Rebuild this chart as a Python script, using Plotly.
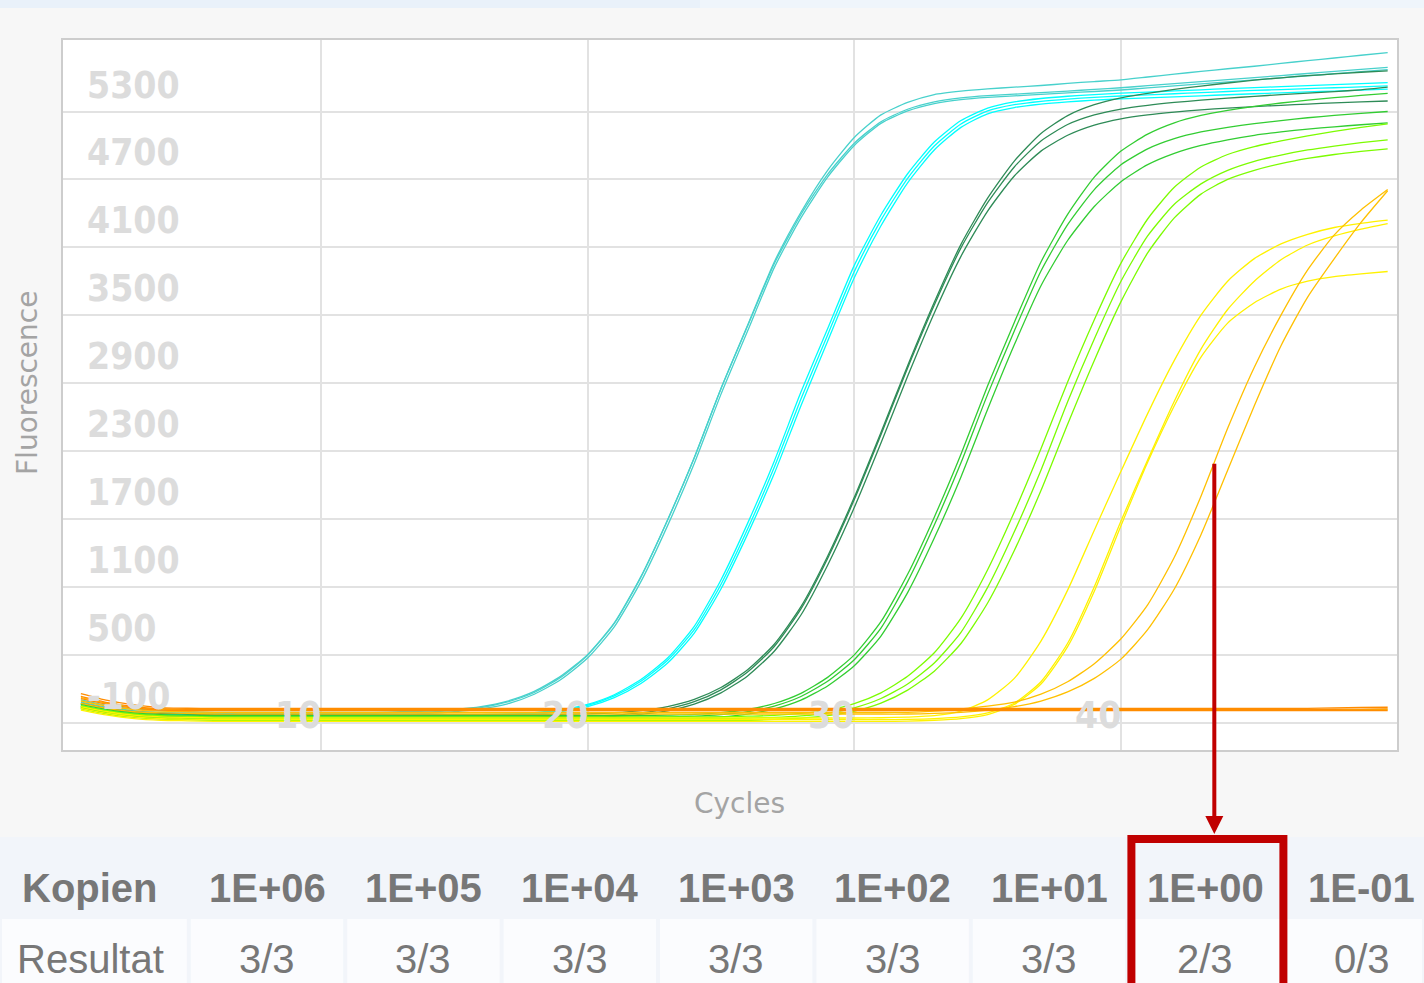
import numpy as np
import plotly.graph_objects as go

# ---------------- data ----------------
cycles = [1, 2, 3, 4, 5, 6, 7, 8, 9, 10, 11, 12, 13, 14, 15, 16, 17, 18, 19, 20,
          21, 22, 23, 24, 25, 26, 27, 28, 29, 30, 31, 32, 33, 34, 35, 36, 37, 38, 39, 40,
          41, 42, 43, 44, 45, 46, 47, 48, 49, 50]

teal_a = [100, 50, 20, 5, -5, -10, -10, -10, -10, -10, -10, -10, -5, 0,
          15, 40, 90, 175, 310, 500, 780, 1190, 1690, 2240,
          2850, 3410, 3970, 4410, 4780, 5070, 5270, 5380, 5450, 5480,
          5500, 5515, 5530, 5548, 5565, 5580, 5605, 5630, 5655, 5678,
          5700, 5725, 5750, 5773, 5797, 5820]
teal_b = [80, 35, 5, -10, -15, -20, -20, -20, -20, -20, -20, -20, -15, -8,
          8, 32, 82, 165, 300, 495, 775, 1185, 1690, 2240,
          2850, 3405, 3955, 4390, 4745, 5020, 5210, 5320, 5385, 5420,
          5440, 5453, 5467, 5481, 5495, 5510, 5528, 5546, 5564, 5582,
          5600, 5618, 5636, 5654, 5672, 5690]
teal_c = [60, 20, -10, -20, -25, -30, -30, -30, -30, -30, -30, -30, -26, -20,
          -5, 20, 65, 150, 280, 470, 745, 1145, 1640, 2190,
          2800, 3360, 3920, 4360, 4720, 5000, 5195, 5305, 5370, 5405,
          5425, 5438, 5451, 5464, 5477, 5490, 5508, 5526, 5544, 5562,
          5580, 5598, 5616, 5634, 5652, 5670]

cyan_a = [70, 20, -10, -25, -30, -35, -35, -35, -35, -35, -35, -35, -35, -35, -35,
          -30, -25, -12, 12, 60, 145, 280, 470, 750, 1160,
          1660, 2210, 2820, 3380, 3940, 4385, 4750, 5030, 5220, 5330,
          5385, 5415, 5435, 5450, 5462, 5472, 5482, 5492, 5502, 5511,
          5520, 5529, 5538, 5547, 5556]
cyan_b = [60, 15, -15, -30, -35, -40, -40, -40, -40, -40, -40, -40, -40, -40, -40,
          -36, -30, -18, 6, 52, 135, 265, 450, 720, 1120,
          1610, 2155, 2760, 3325, 3885, 4340, 4710, 4995, 5190, 5305,
          5360, 5390, 5410, 5425, 5437, 5447, 5457, 5467, 5477, 5486,
          5494, 5502, 5510, 5518, 5526]
cyan_c = [50, 10, -20, -35, -40, -45, -45, -45, -45, -45, -45, -45, -45, -45, -45,
          -42, -37, -26, -3, 40, 120, 245, 425, 690, 1080,
          1565, 2100, 2700, 3270, 3830, 4290, 4670, 4960, 5160, 5280,
          5335, 5365, 5385, 5400, 5412, 5421, 5430, 5439, 5448, 5457,
          5465, 5473, 5481, 5489, 5497]

dkgreen_a = [70, 25, -5, -20, -25, -30, -30, -30, -30, -30, -30, -30, -30, -30, -30, -30, -30, -30,
             -28, -23, -14, 5, 40, 104, 209, 366, 592, 924,
             1370, 1890, 2464, 3054, 3614, 4126, 4534, 4862, 5106, 5264,
             5360, 5420, 5460, 5495, 5525, 5552, 5577, 5598, 5617, 5632,
             5647, 5660]
dkgreen_b = [40, 0, -25, -40, -45, -50, -50, -50, -50, -50, -50, -50, -50, -50, -50, -50, -50, -50,
             -48, -43, -34, -15, 20, 84, 189, 346, 572, 904,
             1350, 1870, 2444, 3034, 3590, 4095, 4495, 4810, 5040, 5185,
             5270, 5322, 5355, 5380, 5400, 5418, 5434, 5449, 5463, 5476,
             5492, 5515]
dkgreen_c = [30, -10, -35, -50, -55, -60, -60, -60, -60, -60, -60, -60, -60, -60, -60, -60, -60, -60,
             -58, -54, -46, -29, 2, 62, 162, 312, 530, 850,
             1290, 1800, 2370, 2960, 3520, 4020, 4420, 4730, 4950, 5090,
             5180, 5235, 5270, 5295, 5315, 5330, 5343, 5355, 5366, 5376,
             5385, 5393]

green_a = [60, 15, -15, -30, -35, -40, -40, -40, -40, -40, -40, -40, -40, -40, -40, -40, -40,
           -40, -40, -40, -40, -40,
           -35, -28, -12, 15, 68, 158, 299, 498, 791, 1210,
           1715, 2271, 2876, 3436, 3970, 4390, 4720, 4950, 5100, 5200,
           5265, 5310, 5345, 5375, 5400, 5422, 5442, 5460]
green_b = [45, 0, -30, -45, -50, -55, -55, -55, -55, -55, -55, -55, -55, -55, -55, -55, -55,
           -55, -55, -55, -55, -55,
           -50, -44, -30, -5, 45, 130, 265, 455, 735, 1145,
           1645, 2195, 2800, 3360, 3890, 4300, 4610, 4830, 4970, 5060,
           5120, 5160, 5193, 5220, 5245, 5265, 5283, 5300]
green_c = [30, -15, -45, -60, -65, -70, -70, -70, -70, -70, -70, -70, -70, -70, -70, -70, -70,
           -70, -70, -70, -70, -70,
           -66, -61, -50, -25, 20, 98, 223, 402, 664, 1048,
           1530, 2070, 2668, 3238, 3760, 4160, 4460, 4680, 4830, 4930,
           5000, 5050, 5090, 5120, 5145, 5165, 5183, 5200]

lawn_a = [50, 5, -25, -40, -45, -50, -50, -50, -50, -50, -50, -50, -50, -50, -50,
          -50, -50, -50, -50, -50, -50, -50, -50, -50, -50,
          -44, -37, -20, 10, 67, 162, 308, 516, 822, 1250,
          1760, 2320, 2910, 3460, 3960, 4350, 4630, 4810, 4920, 4990,
          5040, 5085, 5125, 5160, 5190]
lawn_b = [35, -10, -40, -55, -60, -65, -65, -65, -65, -65, -65, -65, -65, -65, -65,
          -65, -65, -65, -65, -65, -65, -65, -65, -65, -65,
          -60, -55, -42, -17, 30, 112, 241, 426, 697, 1094,
          1585, 2130, 2735, 3290, 3800, 4200, 4480, 4660, 4780, 4860,
          4915, 4960, 4995, 5025, 5050]
lawn_c = [20, -25, -55, -70, -75, -80, -80, -80, -80, -80, -80, -80, -80, -80, -80,
          -80, -80, -80, -80, -80, -80, -80, -80, -80, -80, -80,
          -72, -61, -40, 0, 71, 186, 354, 598, 956, 1420,
          1950, 2536, 3100, 3620, 4050, 4360, 4570, 4700, 4780, 4840,
          4885, 4920, 4947, 4970]

yellow_a = [40, -5, -35, -50, -55, -60, -60, -60, -60, -60, -60, -60, -60, -60, -60,
            -60, -60, -60, -60, -60, -60, -60, -60, -60, -60, -60, -60, -60, -60, -60,
            -58, -52, -40, 0, 100, 290, 620, 1070, 1600, 2120,
            2630, 3100, 3500, 3800, 4000, 4130, 4215, 4275, 4312, 4340]
yellow_b = [25, -20, -50, -65, -70, -75, -75, -75, -75, -75, -75, -75, -75, -75, -75,
            -75, -75, -75, -75, -75, -75, -75, -75, -75, -75, -75, -75, -75, -75, -75, -75,
            -72, -65, -50, -15, 70, 260, 600, 1100, 1680,
            2220, 2740, 3200, 3550, 3800, 3990, 4120, 4200, 4260, 4310]
yellow_c = [10, -35, -65, -80, -85, -90, -90, -90, -90, -90, -90, -90, -90, -90, -90,
            -90, -90, -90, -90, -90, -90, -90, -90, -90, -90, -90, -90, -90, -90, -90, -90,
            -88, -80, -65, -30, 60, 240, 570, 1060, 1640,
            2200, 2700, 3130, 3430, 3610, 3730, 3800, 3840, 3865, 3886]

gold_a = [90, 45, 15, 0, -5, -10, -10, -10, -10, -10, -10, -10, -10, -10, -10,
          -10, -10, -10, -10, -10, -10, -10, -10, -10, -10, -10, -10, -10, -10, -10, -10, -10,
          0, 20, 45, 80, 150, 260, 420, 640,
          940, 1360, 1900, 2500, 3040, 3500, 3900, 4210, 4430, 4610]
gold_b = [70, 25, -5, -15, -20, -25, -25, -25, -25, -25, -25, -25, -25, -25, -25,
          -25, -25, -25, -25, -25, -25, -25, -25, -25, -25, -25, -25, -25, -25, -25, -25, -25,
          -20, -10, 10, 40, 90, 170, 290, 460,
          720, 1080, 1560, 2130, 2700, 3230, 3660, 4000, 4320, 4600]
gold_c = [120, 70, 35, 18, 12, 10, 10, 10, 10, 10, 10, 10, 10, 10, 10,
          10, 10, 10, 10, 10, 10, 10, 10, 10, 10, 10, 10, 10, 10, 10,
          10, 10, 10, 10, 10, 10, 10, 10, 10, 10, 10, 10, 10, 10, 10,
          10, 10, 12, 14, 15]

orange_a = [156, 95, 55, 32, 26, 24, 24, 24, 24, 24, 24, 24, 24, 24, 24,
            24, 24, 24, 24, 24, 24, 24, 24, 24, 24, 24, 24, 24, 24, 24,
            24, 24, 24, 24, 24, 24, 24, 24, 24, 24, 24, 24, 24, 24, 24,
            24, 24, 30, 33, 35]
orange_b = [130, 75, 40, 22, 17, 15, 15, 15, 15, 15, 15, 15, 15, 15, 15,
            15, 15, 15, 15, 15, 15, 15, 15, 15, 15, 15, 15, 15, 15, 15,
            15, 15, 15, 15, 15, 15, 15, 15, 15, 15, 15, 15, 15, 15, 15,
            15, 15, 17, 19, 20]
orange_c = [110, 60, 28, 10, 6, 5, 5, 5, 5, 5, 5, 5, 5, 5, 5,
            5, 5, 5, 5, 5, 5, 5, 5, 5, 5, 5, 5, 5, 5, 5,
            5, 5, 5, 5, 5, 5, 5, 5, 5, 5, 5, 5, 5, 5, 5,
            5, 5, 5, 5, 5]

groups = [
    ("1E+06", "#48D1CC", [teal_a, teal_b, teal_c]),
    ("1E+05", "#00FFFF", [cyan_a, cyan_b, cyan_c]),
    ("1E+04", "#2E8B57", [dkgreen_a, dkgreen_b, dkgreen_c]),
    ("1E+03", "#32CD32", [green_a, green_b, green_c]),
    ("1E+02", "#7CFC00", [lawn_a, lawn_b, lawn_c]),
    ("1E+01", "#FFF200", [yellow_a, yellow_b, yellow_c]),
    ("1E+00", "#FFC000", [gold_c, gold_a, gold_b]),
    ("1E-01", "#FF8C00", [orange_c, orange_b, orange_a]),
]

y_ticks = [5300, 4700, 4100, 3500, 2900, 2300, 1700, 1100, 500, -100]
x_ticks = [10, 20, 30, 40]

kopien = ["1E+06", "1E+05", "1E+04", "1E+03", "1E+02", "1E+01", "1E+00", "1E-01"]
resultat = ["3/3", "3/3", "3/3", "3/3", "3/3", "3/3", "2/3", "0/3"]
highlight = "1E+00"

# ---------------- layout geometry ----------------
W, H = 1424, 983
L, R, T, B = 63, 1397, 40, 750
x_range = [0.33, 50.35]
y_range = [-343, 5932]


def px(x):
    return (x - L) / (R - L)


def py(y):
    return (B - y) / (B - T)


fig = go.Figure()
for name, color, curves in groups:
    for vals in curves:
        assert len(vals) == len(cycles), (name, len(vals))
        fig.add_trace(go.Scatter(x=cycles, y=vals, mode="lines", name=name,
                                 line=dict(color=color, width=1.3, shape="spline",
                                           smoothing=0.6),
                                 hoverinfo="skip", showlegend=False))

annotations = []
tick_font = dict(family="Liberation Sans Narrow, DejaVu Sans Condensed, Arial Narrow, sans-serif",
                 size=37, color="#dcdcdc", weight="bold")
for v in y_ticks:
    annotations.append(dict(text=str(v), x=px(85), xref="paper", xanchor="left",
                            y=v, yref="y", yanchor="bottom", yshift=3,
                            showarrow=False, font=tick_font))
for c in x_ticks:
    annotations.append(dict(text=str(c), x=c, xref="x", xanchor="right", xshift=2,
                            y=y_ticks[-1], yref="y", yanchor="middle", yshift=7,
                            showarrow=False, font=tick_font))

title_font = dict(family="DejaVu Sans", size=28, color="#a4a4a4")
annotations.append(dict(text="Fluorescence", x=px(27), y=py(383), xref="paper", yref="paper",
                        textangle=-90, showarrow=False, font=title_font,
                        xanchor="center", yanchor="middle"))
annotations.append(dict(text="Cycles", x=px(739), y=py(804), xref="paper", yref="paper",
                        showarrow=False, font=title_font, xanchor="center", yanchor="middle"))

# table
col0 = 267
dcol = 156.4
head_font = dict(family="Liberation Sans, Arial, sans-serif", size=40, color="#777777",
                 weight="bold")
body_font = dict(family="Liberation Sans, Arial, sans-serif", size=40, color="#777777")
annotations.append(dict(text="Kopien", x=px(90), y=py(888), xref="paper", yref="paper",
                        showarrow=False, font=head_font, xanchor="center", yanchor="middle"))
annotations.append(dict(text="Resultat", x=px(90), y=py(959), xref="paper", yref="paper",
                        showarrow=False, font=body_font, xanchor="center", yanchor="middle"))
for i, (k, r) in enumerate(zip(kopien, resultat)):
    cx = col0 + i * dcol
    annotations.append(dict(text=k, x=px(cx), y=py(888), xref="paper", yref="paper",
                            showarrow=False, font=head_font, xanchor="center", yanchor="middle"))
    annotations.append(dict(text=r, x=px(cx), y=py(959), xref="paper", yref="paper",
                            showarrow=False, font=body_font, xanchor="center", yanchor="middle"))

# red arrow from the first amplifying 1E+00 curve down to the table
arrow_cycle = 43.5
arrow_tail = float(np.interp(arrow_cycle, cycles, gold_a))
head_y = y_range[0] - (834 - B) / (B - T) * (y_range[1] - y_range[0])
annotations.append(dict(text="", x=arrow_cycle, y=head_y, xref="x", yref="y",
                        ax=arrow_cycle, ay=arrow_tail, axref="x", ayref="y",
                        showarrow=True, arrowhead=2, arrowsize=0.9, arrowwidth=4,
                        arrowcolor="#C00000", standoff=0, startstandoff=0))

shapes = []
# top strip
shapes.append(dict(type="rect", xref="paper", yref="paper", x0=px(0), x1=px(700),
                   y0=py(8), y1=py(0), fillcolor="#e9f1fa", line=dict(width=0), layer="below"))
shapes.append(dict(type="rect", xref="paper", yref="paper", x0=px(700), x1=px(1424),
                   y0=py(8), y1=py(0), fillcolor="#eff5fb", line=dict(width=0), layer="below"))
# table header row band
shapes.append(dict(type="rect", xref="paper", yref="paper", x0=px(0), x1=px(1424),
                   y0=py(917), y1=py(837), fillcolor="#f2f5fa", line=dict(width=0), layer="below"))
# result row cells
shapes.append(dict(type="rect", xref="paper", yref="paper", x0=px(0), x1=px(1424),
                   y0=py(990), y1=py(917), fillcolor="#f2f5fa", line=dict(width=0), layer="below"))
edges = [0] + [col0 - dcol / 2 + i * dcol for i in range(len(kopien))] + [1424]
for a, b in zip(edges[:-1], edges[1:]):
    shapes.append(dict(type="rect", xref="paper", yref="paper", x0=px(a + 2), x1=px(b - 2),
                       y0=py(990), y1=py(919), fillcolor="#fbfcfe", line=dict(width=0),
                       layer="below"))
# highlight box
hi = kopien.index(highlight)
hx = col0 + hi * dcol
shapes.append(dict(type="rect", xref="paper", yref="paper", x0=px(hx - 74), x1=px(hx + 78),
                   y0=py(995), y1=py(839), fillcolor="rgba(0,0,0,0)",
                   line=dict(color="#C00000", width=8), layer="above"))

fig.update_layout(
    width=W, height=H, autosize=False,
    margin=dict(l=L, r=W - R, t=T, b=H - B, pad=0),
    paper_bgcolor="#f7f7f7", plot_bgcolor="#ffffff",
    showlegend=False,
    xaxis=dict(range=x_range, tickvals=x_ticks, showticklabels=False, ticks="",
               showgrid=True, gridcolor="#e2e2e2", gridwidth=1.5, zeroline=False,
               showline=True, mirror=True, linecolor="#cdcdcd", linewidth=2, fixedrange=True),
    yaxis=dict(range=y_range, tickvals=y_ticks, showticklabels=False, ticks="",
               showgrid=True, gridcolor="#e2e2e2", gridwidth=1.5, zeroline=False,
               showline=True, mirror=True, linecolor="#cdcdcd", linewidth=2, fixedrange=True),
    annotations=annotations,
    shapes=shapes,
)

fig.write_html("out.html", config={"displayModeBar": False},
               post_script="document.body.style.margin='0px';document.body.style.overflow='hidden';")
